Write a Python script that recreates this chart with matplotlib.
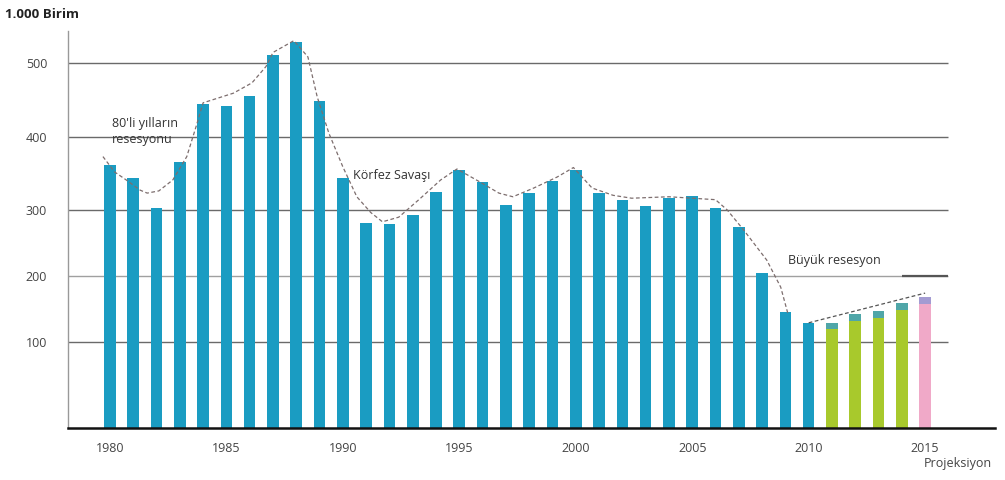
import numpy as np
import matplotlib
matplotlib.use("Agg")
import matplotlib.pyplot as plt
from matplotlib.ticker import NullLocator, FixedLocator

# ---- data ----
years_hist = list(range(1980, 2011))
vals_hist = [362, 344, 303, 366, 445, 442, 455, 511, 528, 449,
             344, 280, 279, 292, 324, 355, 338, 307, 323, 340,
             355, 323, 314, 305, 316, 319, 302, 274, 204, 145, 129]
years_fc = [2011, 2012, 2013, 2014]
vals_fc = [129, 142, 147, 159]
years_proj = [2015]
vals_proj = [168]

trend_years = [1979.7, 1980.2, 1980.7, 1981.3, 1981.6, 1982.1, 1982.7, 1983.3, 1983.7,
               1984.0, 1985.3, 1986.1, 1986.7, 1987.0, 1987.9, 1988.5, 1988.9, 1989.4,
               1990.0, 1990.6, 1991.2, 1991.7, 1992.4, 1993.3, 1994.2, 1994.9, 1995.9,
               1996.7, 1997.3, 1998.2, 1999.2, 1999.9, 2000.7, 2001.6, 2002.4, 2004.0,
               2006.0, 2006.5, 2007.2, 2008.2, 2008.8, 2009.1]
trend_vals = [373, 352, 341, 327, 323, 326, 341, 373, 414,
              446, 459, 473, 495, 514, 530, 508, 454, 405,
              359, 318, 296, 282, 289, 315, 341, 356, 338,
              323, 318, 330, 345, 358, 330, 320, 316, 318,
              314, 300, 270, 224, 183, 144]
recovery_years = [2010, 2015]
recovery_vals = [129, 174]

ytick_vals = [100, 200, 300, 400, 500]
xtick_years = [1980, 1985, 1990, 1995, 2000, 2005, 2010, 2015]

# uneven vertical scale of the original chart
scale_v = [-100, 0, 100, 200, 300, 400, 500, 700]
scale_p = [-86, 0, 86, 152, 218, 291, 365, 513]
def fwd(v):
    return np.interp(v, scale_v, scale_p)
def inv(p):
    return np.interp(p, scale_p, scale_v)

plt.rcParams['font.family'] = ['Open Sans', 'DejaVu Sans']

W, H = 1005, 480
fig = plt.figure(figsize=(W / 100, H / 100), dpi=100)
ax = fig.add_axes([68 / W, (H - 428) / H, (995 - 68) / W, (428 - 31) / H])
ax.set_yscale('function', functions=(fwd, inv))
ax.set_ylim(0, 543)
ax.set_xlim(1978.2, 2018.0)

teal = '#1a9cc2'
green = '#a8c92c'
pink = '#f0a9c8'
bw = 0.5

# gridlines
grid_colors = ['#6a6a6a', '#a0a0a0', '#6a6a6a', '#6a6a6a', '#6a6a6a']
for v, c in zip(ytick_vals, grid_colors):
    ax.hlines(v, 1978.2, 2016.0, colors=c, linewidth=1.0, zorder=1)
ax.hlines(200, 2014.0, 2016.0, colors='#555555', linewidth=1.6, zorder=1)

ax.bar(years_hist, vals_hist, width=bw, color=teal, zorder=2)
ax.bar(years_fc, vals_fc, width=bw, color=green, zorder=2)
ax.bar(years_fc, [10] * len(vals_fc), bottom=np.array(vals_fc) - 10, width=bw,
       color='#4fa6a8', zorder=2)
ax.bar(years_proj, vals_proj, width=bw, color=pink, zorder=2)
ax.bar(years_proj, [10], bottom=np.array(vals_proj) - 10, width=bw,
       color='#a39bd2', zorder=2)

ax.plot(trend_years, trend_vals, linestyle=(0, (3, 2)), color='#7d6e6e',
        linewidth=0.9, zorder=3)
ax.plot(recovery_years, recovery_vals, linestyle=(0, (3, 2)), color='#555555',
        linewidth=0.9, zorder=3)

# axes styling
for s in ['top', 'right']:
    ax.spines[s].set_visible(False)
ax.spines['left'].set_color('#999999')
ax.spines['left'].set_linewidth(1.0)
ax.spines['bottom'].set_color('#111111')
ax.spines['bottom'].set_linewidth(1.8)

ax.yaxis.set_major_locator(FixedLocator(ytick_vals))
ax.yaxis.set_minor_locator(NullLocator())
ax.set_yticks(ytick_vals, [str(v) for v in ytick_vals])
ax.set_xticks(xtick_years, [str(y) for y in xtick_years])
ax.yaxis.set_tick_params(length=0, pad=15, labelsize=9, labelcolor='#444444')
ax.xaxis.set_tick_params(length=0, pad=10, labelsize=9, labelcolor='#444444')

ax.text(2014.95, -0.09, 'Projeksiyon', transform=ax.get_xaxis_transform(),
        ha='left', va='center', fontsize=9, color='#444444')

ax.text(1980.1, 407, "80'li yılların\nresesyonu", ha='left', va='center',
        fontsize=9, color='#333333', linespacing=1.25, zorder=4)
ax.text(1990.45, 347, 'Körfez Savaşı', ha='left', va='center',
        fontsize=9, color='#333333', zorder=4)
ax.text(2009.1, 223, 'Büyük resesyon', ha='left', va='center',
        fontsize=9, color='#333333', zorder=4)

fig.text(5 / W, 1 - 14 / H, '1.000 Birim', ha='left', va='center',
         fontsize=9.5, fontweight='bold', color='#222222')

fig.savefig('out.png', dpi=100, facecolor='white')
